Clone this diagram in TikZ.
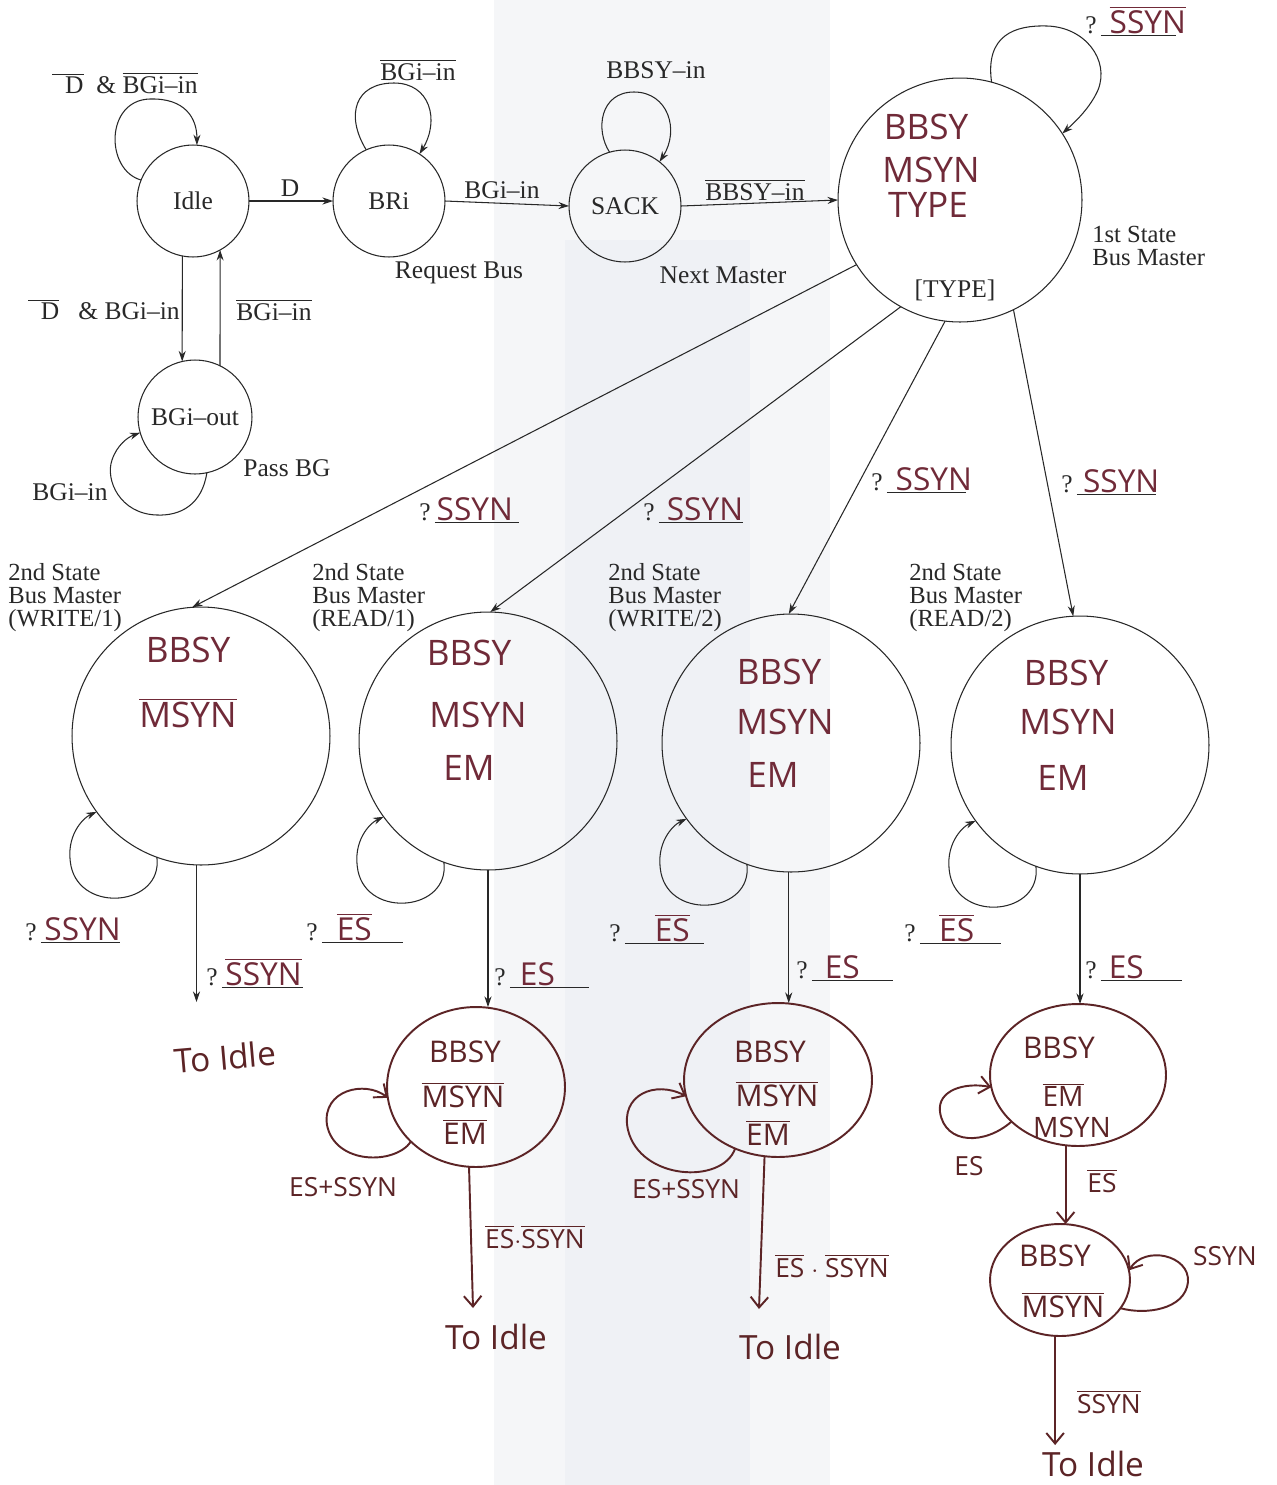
\documentclass[tikz,border=0pt]{standalone}
\usepackage{fontspec}
\setmainfont{Liberation Serif}
\newfontfamily\hwfont{Open Sans}
\usetikzlibrary{arrows.meta,shapes.geometric,calc}
\definecolor{ink}{RGB}{112,42,56}
\definecolor{ink2}{RGB}{92,36,38}
\definecolor{prt}{RGB}{40,40,40}
\definecolor{bandA}{RGB}{245,246,248}
\definecolor{bandB}{RGB}{239,241,245}
\newcommand\ol[1]{\ensuremath{\overline{\mbox{#1}}}}
\newcommand\qbl[3]{?\,\underline{\makebox[#1][l]{\hspace*{#2}{\hwfont\color{ink}\fontsize{18}{20}\selectfont #3}\hfill}}}
\newcommand\bottomloop[1]{\draw[pe] (#1.250) .. controls ($(#1)+(-38,170)$) and ($(#1)+(-120,178)$) .. ($(#1)+(-130,130)$) .. controls ($(#1)+(-136,100)$) and ($(#1)+(-118,82)$) .. (#1.216);}
\begin{document}
\begin{tikzpicture}[x=0.02cm,y=-0.02cm,
  font=\fontsize{14.5}{12.6}\selectfont, text=prt,
  st/.style={circle,draw=prt,line width=0.6pt,inner sep=0pt,outer sep=0pt,minimum size=#1},
  hst/.style={ellipse,draw=ink2,line width=1.1pt,inner sep=0pt,outer sep=0pt},
  pe/.style={draw=prt,line width=0.6pt,-{Stealth[length=6pt,width=4pt]}},
  he/.style={draw=ink2,line width=1.1pt,-{Straight Barb[length=6pt,width=10pt]}},
  hw/.style={font=\hwfont\fontsize{20}{22}\selectfont,text=ink,inner sep=0pt},
  hws/.style={font=\hwfont\fontsize{17}{19}\selectfont,text=ink2,inner sep=0pt},
  hwss/.style={font=\hwfont\fontsize{16}{18}\selectfont,text=ink2,inner sep=0pt},
  hwl/.style={font=\hwfont\fontsize{15}{17}\selectfont,text=ink2,inner sep=0pt},
  hwi/.style={font=\hwfont\fontsize{19}{21}\selectfont,text=ink2,inner sep=0pt},
  lab/.style={inner sep=0pt},
  blk/.style={inner sep=0pt,anchor=base west},
  info/.style={inner sep=0pt,anchor=north west,align=left,font=\fontsize{14}{13}\selectfont}]
\useasboundingbox (0,0) rectangle (1276,1485);
\fill[white] (0,0) rectangle (1276,1485);
\fill[bandA] (494,0) rectangle (830,1485);
\fill[bandB] (565,240) rectangle (750,1485);

% ---------- top row ----------
\node[st=2.24cm] (idle) at (193,201) {Idle};
\node[st=2.24cm] (bri) at (389,201) {BRi};
\node[st=2.24cm] (sack) at (625,206) {SACK};
\node[st=4.88cm] (first) at (960,200) {};
\node[st=2.28cm] (bgo) at (195,417) {BGi--out};

\draw[pe] (idle.east) -- (bri.west);
\draw[pe] (bri.east) -- (sack.west);
\draw[pe] (sack.east) -- (first.west);
\draw[pe] (idle.259) -- (bgo.103);
\draw[pe] (bgo.64) -- (idle.299);

\draw[pe] (idle.158) .. controls (105,170) and (105,100) .. (150,99) .. controls (185,98) and (197,118) .. (idle.86);
\draw[pe] (bri.114) .. controls (345,115) and (355,83) .. (394,83) .. controls (430,83) and (440,120) .. (bri.57);
\draw[pe] (sack.106) .. controls (595,130) and (600,92) .. (634,92) .. controls (668,92) and (680,130) .. (sack.52);
\draw[pe] (first.75) .. controls (985,35) and (1015,25) .. (1047,26) .. controls (1085,27) and (1110,60) .. (1098,90) .. controls (1090,108) and (1075,122) .. (first.33);
\draw[pe] (bgo.282) .. controls (202,505) and (180,516) .. (157,515) .. controls (120,514) and (105,480) .. (112,460) .. controls (117,445) and (128,437) .. (bgo.196);

\node[lab] (lidle) at (125,83) {\ol{\ \ D}\ \ \&\ \ol{BGi--in}};
\node[lab] (ld) at (290,188) {D};
\node[lab] (lbri) at (418,70) {\ol{BGi--in}};
\node[lab] (lreq) at (459,273) {Request Bus};
\node[lab] (lbgi) at (502,190) {BGi--in};
\node[lab] (lsack) at (656,70) {BBSY--in};
\node[lab] (lbbsy) at (755,190) {\ol{BBSY--in}};
\node[lab] (lnext) at (723,275) {Next Master};
\node[info] (lfirst) at (1092,226) {1st State\\Bus Master};
\node[lab] (ltype) at (955,290) {[TYPE]};
\node[lab,anchor=east] (ldown) at (180,310) {\ol{\ \ D}\ \ \ \& BGi--in};
\node[lab] (lup) at (274,310) {\ol{BGi--in}};
\node[lab] (lbgo) at (70,492) {BGi--in};
\node[lab] (lpass) at (287,468) {Pass BG};

\node[hw] (f1) at (926,127) {BBSY};
\node[hw] (f2) at (931,170) {MSYN};
\node[hw] (f3) at (928,205) {TYPE};
\node[blk] (qtop) at (1085,33) {\qbl{43pt}{5pt}{\ol{SSYN}}};

% ---------- second row ----------
\node[st=5.16cm] (w1) at (201,736) {};
\node[st=5.16cm] (r1) at (488,741) {};
\node[st=5.16cm] (w2) at (791,743) {};
\node[st=5.16cm] (rd2) at (1080,745) {};

\draw[pe] (first.212) -- (w1.94);
\draw[pe] (first.241) -- (r1.89);
\draw[pe] (first.263) -- (w2.91);
\draw[pe] (first.296) -- (rd2.93);

\node[blk] (q1) at (419,520) {\qbl{48pt}{1pt}{SSYN}};
\node[blk] (q2) at (643,520) {\qbl{48pt}{4.5pt}{SSYN}};
\node[blk] (q3) at (871,490) {\qbl{45pt}{5pt}{SSYN}};
\node[blk] (q4) at (1061,492) {\qbl{45pt}{3.5pt}{SSYN}};

\node[info] (i1) at (8,563) {2nd State\\Bus Master\\(WRITE/1)};
\node[info] (i2) at (312,563) {2nd State\\Bus Master\\(READ/1)};
\node[info] (i3) at (608,563) {2nd State\\Bus Master\\(WRITE/2)};
\node[info] (i4) at (909,563) {2nd State\\Bus Master\\(READ/2)};

\node[hw] (w1a) at (188,650) {BBSY};
\node[hw] (w1b) at (188,713) {\ol{MSYN}};
\node[hw] (r1a) at (469,653) {BBSY};
\node[hw] (r1b) at (478,715) {MSYN};
\node[hw] (r1c) at (469,768) {EM};
\node[hw] (w2a) at (779,672) {BBSY};
\node[hw] (w2b) at (785,722) {MSYN};
\node[hw] (w2c) at (773,775) {EM};
\node[hw] (d2a) at (1066,673) {BBSY};
\node[hw] (d2b) at (1068,722) {MSYN};
\node[hw] (d2c) at (1063,778) {EM};

\bottomloop{w1}
\bottomloop{r1}
\bottomloop{w2}
\bottomloop{rd2}

\node[blk] (qw1l) at (25,940) {\qbl{45pt}{2pt}{SSYN}};
\node[blk] (qr1l) at (306,940) {\qbl{46pt}{8.5pt}{\ol{ES}}};
\node[blk] (qw2l) at (609,941) {\qbl{45pt}{17pt}{\ol{ES}}};
\node[blk] (qd2l) at (904,941) {\qbl{46pt}{11pt}{\ol{ES}}};

\coordinate (w1end) at (0,1002);
\draw[pe] (w1.268) -- (w1.268 |- w1end);
\node[blk] (qw1d) at (206,985) {\qbl{46pt}{2pt}{\ol{SSYN}}};
\node[hwi,rotate=5] (w1idle) at (225,1057) {To Idle};

% ---------- third row ----------
\node[hst,minimum width=3.56cm,minimum height=3.2cm] (r1t) at (476,1087) {};
\node[hst,minimum width=3.76cm,minimum height=3.08cm] (w2t) at (778,1080) {};
\node[hst,minimum width=3.52cm,minimum height=2.84cm] (rd2t) at (1078,1075) {};
\node[hst,minimum width=2.8cm,minimum height=2.24cm] (rd2f) at (1060,1280) {};

\draw[pe] (r1.south) -- (r1.south |- r1t.north);
\draw[pe] (w2.269) -- (w2.269 |- w2t.north);
\draw[pe] (rd2.south) -- (rd2.south |- rd2t.north);
\node[blk] (qr1d) at (494,985) {\qbl{45pt}{5.7pt}{ES}};
\node[blk] (qw2d) at (796,978) {\qbl{46pt}{7.4pt}{ES}};
\node[blk] (qd2d) at (1085,978) {\qbl{46pt}{4.5pt}{ES}};

\node[hws] (t1a) at (465,1052) {BBSY};
\node[hws] (t1b) at (463,1095) {\ol{MSYN}};
\node[hws] (t1c) at (465,1132) {\ol{EM}};
\node[hws] (t2a) at (770,1052) {BBSY};
\node[hws] (t2b) at (777,1094) {\ol{MSYN}};
\node[hws] (t2c) at (768,1133) {\ol{EM}};
\node[hws] (t3a) at (1059,1048) {BBSY};
\node[hwss] (t3b) at (1063,1095) {\ol{EM}};
\node[hwss] (t3c) at (1072,1127) {MSYN};
\node[hws] (t4a) at (1055,1256) {BBSY};
\node[hws] (t4b) at (1063,1305) {\ol{MSYN}};

\draw[he] (r1t.220) .. controls (395,1165) and (335,1165) .. (327,1125) .. controls (322,1090) and (365,1080) .. (r1t.187);
\draw[he] (w2t.238) .. controls (722,1185) and (640,1180) .. (628,1130) .. controls (620,1095) and (655,1080) .. (w2t.190);
\draw[he] (rd2t.215) .. controls (985,1145) and (945,1145) .. (940,1112) .. controls (937,1090) and (965,1082) .. (rd2t.188);
\draw[he] (rd2f.335) .. controls (1145,1315) and (1185,1310) .. (1188,1282) .. controls (1190,1255) and (1145,1245) .. (rd2f.8);

\coordinate (r1end) at (473,1308);
\coordinate (w2end) at (759,1309);
\coordinate (d2end) at (1055,1445);
\draw[he] (r1t.265) -- (r1end);
\draw[he] (w2t.260) -- (w2end);
\draw[he] (rd2t.260) -- (rd2t.260 |- rd2f.north);
\draw[he] (rd2f.265) -- (rd2f.265 |- d2end);

\node[hwl] (e1) at (343,1187) {ES+SSYN};
\node[hwl] (e2) at (535,1237) {\ol{ES}$\cdot$\ol{SSYN}};
\node[hwi] (e3) at (496,1337) {To Idle};
\node[hwl] (e4) at (686,1189) {ES+SSYN};
\node[hwl] (e5) at (832,1266) {\ol{ES} $\cdot$ \ol{SSYN}};
\node[hwi] (e6) at (790,1347) {To Idle};
\node[hwl] (e7) at (969,1166) {ES};
\node[hwl] (e8) at (1102,1181) {\ol{ES}};
\node[hwl] (e9) at (1225,1256) {SSYN};
\node[hwl] (e10) at (1109,1402) {\ol{SSYN}};
\node[hwi] (e11) at (1093,1464) {To Idle};
\end{tikzpicture}
\end{document}
